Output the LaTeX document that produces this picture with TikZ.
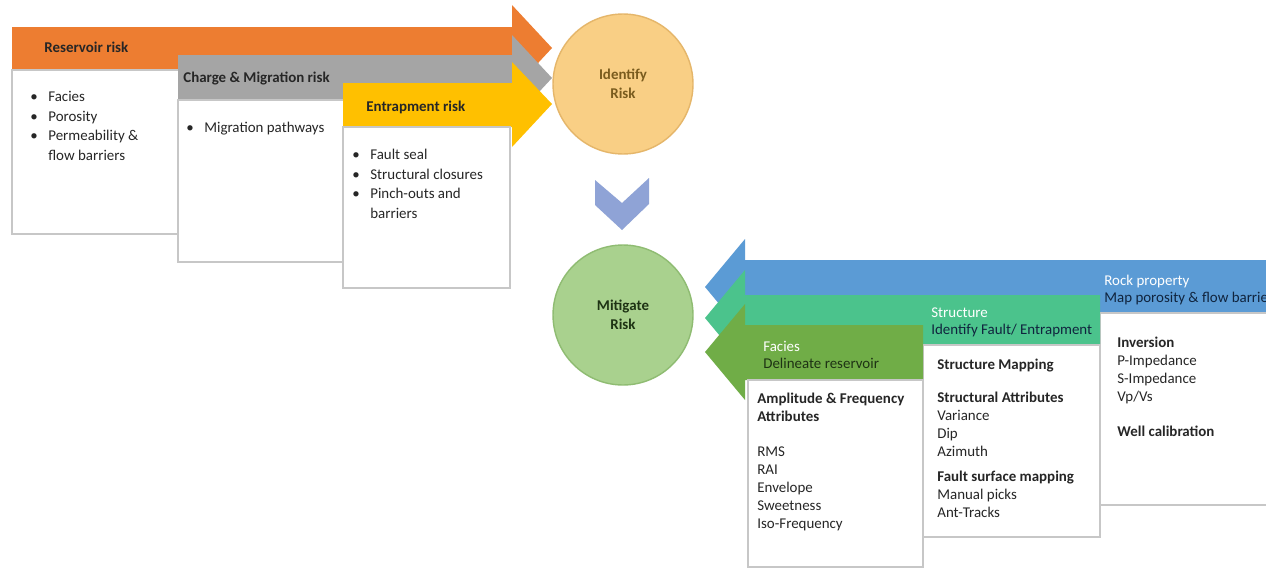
\documentclass[tikz,border=0pt]{standalone}
\usepackage{fontspec}
\setmainfont{Carlito}
\usetikzlibrary{positioning,calc}
\definecolor{resorange}{HTML}{ED7D31}
\definecolor{chargegray}{HTML}{A5A5A5}
\definecolor{entyellow}{HTML}{FFC000}
\definecolor{rockblue}{HTML}{5B9BD5}
\definecolor{structteal}{HTML}{4BC38C}
\definecolor{facgreen}{HTML}{70AD47}
\definecolor{identfill}{HTML}{F9CF85}
\definecolor{identline}{HTML}{E5B66A}
\definecolor{mitfill}{HTML}{A9D18E}
\definecolor{mitline}{HTML}{8FBC72}
\definecolor{chevblue}{HTML}{8FA3D6}
\definecolor{txtdark}{HTML}{262626}
\definecolor{txtbrown}{HTML}{7A5C1E}
\definecolor{txtgreen}{HTML}{1E3314}
\definecolor{txtnavy}{HTML}{10243E}

\newcommand{\riskbul}{\makebox[0.36cm][l]{\textbullet}}
\newcommand{\riskind}{\hspace*{0.36cm}}

\begin{document}
\begin{tikzpicture}[x=0.02cm, y=-0.02cm,
  boxw/.style={fill=white, draw=black!22, line width=0.6pt},
  ttl/.style={anchor=base west, inner sep=0pt, font=\fontsize{8.5}{10}\selectfont\bfseries, text=txtdark},
  lst/.style={anchor=north west, inner sep=0pt, align=left, text=txtdark, font=\fontsize{8.5}{11.1}\selectfont},
  lstr/.style={lst, font=\fontsize{8.5}{10.2}\selectfont},
  hdr/.style={anchor=north west, inner sep=0pt, align=left, font=\fontsize{8.5}{9.7}\selectfont},
  riskcirc/.style={circle, minimum size=2.8cm, inner sep=0pt, line width=0.8pt, align=center, font=\fontsize{8.5}{10.6}\selectfont\bfseries}
]

\useasboundingbox (0,0) rectangle (1266,568);
\clip (0,0) rectangle (1266,568);
\fill[white] (0,0) rectangle (1266,568);

% ================= LEFT: RISK ARROWS =================

% --- Reservoir risk ---
\fill[resorange] (12,27) -- (512,27) -- (512,5) -- (552,48) -- (512,91) -- (512,70) -- (12,70) -- cycle;
\draw[boxw] (12,70) rectangle (200,234);
\node[ttl] (restitle) at (44,52) {Reservoir risk};
\node[lst] (reslist) at (30,91)
{\riskbul Facies\\ \riskbul Porosity\\ \riskbul Permeability \&\\ \riskind flow barriers};

% --- Charge & Migration risk ---
\fill[chargegray] (178,55) -- (512,55) -- (512,35) -- (552,78) -- (512,121) -- (512,100) -- (178,100) -- cycle;
\draw[boxw] (178,100) rectangle (360,262);
\node[ttl] (chgtitle) at (183,82) {Charge \& Migration risk};
\node[lst] (chglist) at (186,122) {\riskbul Migration pathways};

% --- Entrapment risk ---
\fill[entyellow] (343,83) -- (512,83) -- (512,62) -- (552,104) -- (512,147) -- (512,127) -- (343,127) -- cycle;
\draw[boxw] (343,127) rectangle (510,288);
\node[ttl] (enttitle) at (366,111) {Entrapment risk};
\node[lst] (entlist) at (352,149)
{\riskbul Fault seal\\ \riskbul Structural closures\\ \riskbul Pinch-outs and\\ \riskind barriers};

% ================= MIDDLE: CIRCLES =================
\node[riskcirc, fill=identfill, draw=identline, text=txtbrown] (identify) at (623,84) {Identify\\Risk};
\node[riskcirc, fill=mitfill, draw=mitline, text=txtgreen] (mitigate) at (623,315) {Mitigate\\Risk};

% --- chevron ---
\fill[chevblue] (595,180) -- (622,203) -- (649,178) -- (649,204) -- (622,230) -- (595,205) -- cycle;

% ================= RIGHT: MITIGATION ARROWS =================

% --- Rock property ---
\fill[rockblue] (1280,260) -- (745,260) -- (745,239) -- (705,287) -- (745,335) -- (745,313) -- (1280,313) -- cycle;
\draw[boxw] (1100,313) rectangle (1290,505);
\node[hdr, text=white] (rocklabel) at (1104,275)
{Rock property\\ \textcolor{txtnavy}{Map porosity \& flow barriers}};
\node[lstr] (rocklist) at (1117,337)
{\textbf{Inversion}\\ P-Impedance\\ S-Impedance\\ Vp/Vs\\[0.34cm] \textbf{Well calibration}};

% --- Structure ---
\fill[structteal] (1100,295) -- (745,295) -- (745,270) -- (705,318) -- (745,366) -- (745,345) -- (1100,345) -- cycle;
\draw[boxw] (923,345) rectangle (1100,537);
\node[hdr, text=white] (structlabel) at (931,307)
{Structure\\ \textcolor{txtnavy}{Identify Fault/ Entrapment}};
\node[lstr] (structlist) at (937,359)
{\textbf{Structure Mapping}\\[0.30cm] \textbf{Structural Attributes}\\ Variance\\ Dip\\ Azimuth\\[0.14cm]
\textbf{Fault surface mapping}\\ Manual picks\\ Ant-Tracks};

% --- Facies ---
\fill[facgreen] (923,325) -- (745,325) -- (745,304) -- (705,352) -- (745,400) -- (745,380) -- (923,380) -- cycle;
\draw[boxw] (748,380) rectangle (923,567);
\node[hdr, text=white] (faclabel) at (763,341)
{Facies\\ \textcolor{txtgreen}{Delineate reservoir}};
\node[lstr] (faclist) at (757,393)
{\textbf{Amplitude \& Frequency}\\ \textbf{Attributes}\\[0.34cm] RMS\\ RAI\\ Envelope\\ Sweetness\\ Iso-Frequency};

\end{tikzpicture}
\end{document}
